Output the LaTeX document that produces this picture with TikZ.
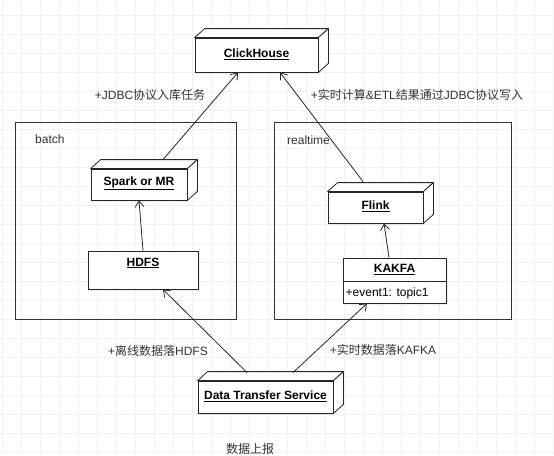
\documentclass[tikz,border=0pt]{standalone}
\usepackage{fontspec}
\setmainfont{Liberation Sans}
\newfontfamily\cjk{Noto Sans CJK SC}
\usetikzlibrary{arrows.meta,shadows}
\begin{document}
\begin{tikzpicture}[x=1pt,y=-1pt,font=\fontsize{12}{14}\selectfont,
  face/.style={draw=black!85,fill=white,line width=0.8pt,inner sep=0pt,
    drop shadow={shadow xshift=2pt,shadow yshift=-2pt,opacity=0.12}},
  side/.style={draw=black!85,fill=white,line width=0.8pt,line join=round},
  container/.style={draw=black!80,line width=0.8pt},
  arr/.style={draw=black!85,line width=0.8pt,-{Straight Barb[length=6pt,width=9pt]}},
  lbl/.style={text=black!80,inner sep=0pt},
  ttl/.style={font=\fontsize{12}{14}\selectfont\bfseries,inner sep=0pt},
  gridline/.style={draw=black!6,line width=0.6pt}]
\useasboundingbox[fill=white] (0,0) rectangle (554,455);
% grid
\foreach \i in {0,...,29} \draw[gridline] (2+19*\i,0) -- (2+19*\i,455);
\foreach \j in {0,...,23} \draw[gridline] (0,15+19*\j) -- (554,15+19*\j);
% containers
\node[container,minimum width=221pt,minimum height=197pt,inner sep=0pt] (batch) at (125.5,220.5) {};
\node[container,minimum width=237pt,minimum height=197pt,inner sep=0pt] (realtime) at (392.5,220.5) {};
\node[lbl,anchor=west] (batchlbl) at (35,139) {batch};
\node[lbl,anchor=west] (rtlbl) at (287,140) {realtime};
% 3D nodes
\node[face,minimum width=123pt,minimum height=34pt] (ch) at (256.5,55) {};
\node[face,minimum width=96pt,minimum height=31pt] (spark) at (139,184.5) {};
\node[face,minimum width=95pt,minimum height=31pt] (flink) at (375.5,207.5) {};
\node[face,minimum width=135pt,minimum height=32pt] (dts) at (265.5,397) {};
\foreach \n in {ch,spark,flink,dts}{
  \draw[side] (\n.north west) -- ++(10,-9) -- ([shift={(10,-9)}]\n.north east) -- (\n.north east) -- cycle;
  \draw[side] (\n.north east) -- ++(10,-9) -- ([shift={(10,-9)}]\n.south east) -- (\n.south east) -- cycle;
}
\node[ttl] (chtxt) at (256.5,54) {\underline{ClickHouse}};
\node[ttl] (sparktxt) at (139,183.5) {\underline{Spark or MR}};
\node[ttl] (flinktxt) at (375.5,206.5) {\underline{Flink}};
\node[ttl] (dtstxt) at (265.5,396) {\underline{Data Transfer Service}};
% HDFS
\node[face,minimum width=110pt,minimum height=38pt] (hdfs) at (143,270) {};
\node[ttl] (hdfstxt) at (143,263) {\underline{HDFS}};
% KAKFA
\node[face,minimum width=103pt,minimum height=45pt] (kafka) at (394.5,280.5) {};
\draw[draw=black!85,line width=0.8pt] ([yshift=-24pt]kafka.north west) -- ([yshift=-24pt]kafka.north east);
\node[ttl] (kafkatxt) at (394.5,269.5) {\underline{KAKFA}};
\node[inner sep=0pt,anchor=west] (kafkaattr) at (345.5,293) {+event1: topic1};
% connectors
\draw[arr] (hdfs.north) -- (spark.south);
\draw[arr] ([xshift=24pt,yshift=9pt]spark.north) -- ([xshift=-18.5pt]ch.south);
\draw[arr] ([xshift=-5.5pt]kafka.north) -- ([xshift=8.5pt]flink.south);
\draw[arr] ([xshift=-12.5pt,yshift=10pt]flink.north) -- ([xshift=23.5pt]ch.south);
\draw[arr] ([xshift=-18.5pt,yshift=8pt]dts.north) -- ([xshift=20pt]hdfs.south);
\draw[arr] ([xshift=27.5pt,yshift=8pt]dts.north) -- ([xshift=-27.5pt]kafka.south);
% labels
\node[lbl] (l1) at (150,95) {+JDBC{\cjk 协议入库任务}};
\node[lbl] (l2) at (417,95) {+{\cjk 实时计算}\&ETL{\cjk 结果通过}JDBC{\cjk 协议写入}};
\node[lbl] (l3) at (158,351) {+{\cjk 离线数据落}HDFS};
\node[lbl] (l4) at (383,350) {+{\cjk 实时数据落}KAFKA};
\node[lbl] (l5) at (250,449) {{\cjk 数据上报}};
\end{tikzpicture}
\end{document}
